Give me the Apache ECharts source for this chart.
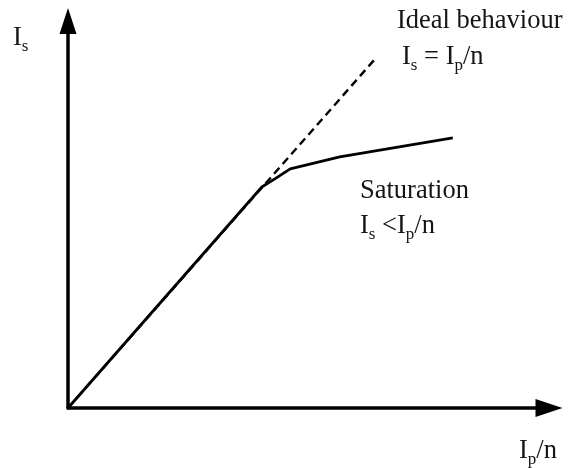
<!DOCTYPE html>
<html>
<head>
<meta charset="utf-8">
<script src="https://cdn.jsdelivr.net/npm/echarts@6/dist/echarts.min.js"></script>
<style>html,body{margin:0;padding:0;background:#fff}#c{width:569px;height:468px}</style>
</head>
<body>
<div id="c"></div>
<script>
// Actual (saturating) secondary current vs ideal Ip/n (arbitrary units)
var actualX = [0, 40.3, 43.0, 46.2, 56.5, 80.0];
var actualY = [0, 57.1, 59.2, 61.8, 64.9, 69.8];
var idealX = [0, 64.2];
var idealY = [0, 90.7];

function pairs(xs, ys) { return xs.map(function (x, i) { return [x, ys[i]]; }); }

var FONT = '"Liberation Serif", "Times New Roman", serif';
var COL = '#151515';
var rich = {
  m: { fontSize: 26.5, fontFamily: FONT, color: COL, lineHeight: 32, verticalAlign: 'bottom' },
  s: { fontSize: 17, fontFamily: FONT, color: COL, lineHeight: 32, verticalAlign: 'bottom', padding: [0, 0, -3, 0] }
};
function txt(x, y, str) {
  return { type: 'text', left: x, top: y, style: { text: str, rich: rich, fill: COL, font: '26.5px ' + FONT } };
}

var chart = echarts.init(document.getElementById('c'), null, { renderer: 'canvas' });
chart.setOption({
  animation: false,
  backgroundColor: '#fff',
  grid: { left: 68, top: 21, right: 20, bottom: 60 },
  xAxis: {
    type: 'value', min: 0, max: 100,
    axisLine: { show: true, onZero: false, symbol: ['none', 'triangle'], symbolSize: [18, 27], lineStyle: { color: '#000', width: 3.5 } },
    axisTick: { show: false }, axisLabel: { show: false }, splitLine: { show: false }
  },
  yAxis: {
    type: 'value', min: 0, max: 100,
    axisLine: { show: true, onZero: false, symbol: ['none', 'triangle'], symbolSize: [17, 26], lineStyle: { color: '#000', width: 3.5 } },
    axisTick: { show: false }, axisLabel: { show: false }, splitLine: { show: false }
  },
  series: [
    { type: 'line', data: pairs(idealX, idealY), symbol: 'none', lineStyle: { color: '#000', width: 2.4, type: [8, 5] } },
    { type: 'line', data: pairs(actualX, actualY), symbol: 'none', lineStyle: { color: '#000', width: 2.8 } }
  ],
  graphic: [
    txt(397, 8, '{m|Ideal behaviour}'),
    txt(402, 44, '{m|I}{s|s}{m| = I}{s|p}{m|/n}'),
    txt(360, 178, '{m|Saturation}'),
    txt(360, 213, '{m|I}{s|s}{m| <I}{s|p}{m|/n}'),
    txt(13, 25, '{m|I}{s|s}'),
    txt(519, 438, '{m|I}{s|p}{m|/n}')
  ]
});
</script>
</body>
</html>
